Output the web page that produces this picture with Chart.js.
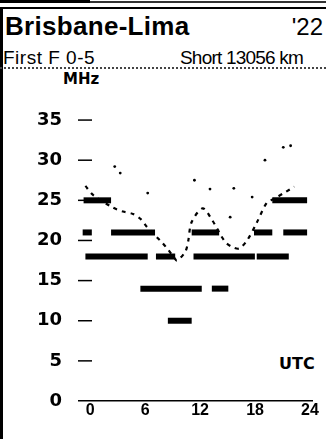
<!DOCTYPE html>
<html>
<head>
<meta charset="utf-8">
<script src="https://cdn.jsdelivr.net/npm/chart.js@4"></script>
<style>
  html, body { margin:0; padding:0; background:#fff; }
  body { width:326px; height:439px; position:relative; overflow:hidden; }
  #c { position:absolute; left:0; top:0; }
  .t { position:absolute; white-space:nowrap; line-height:1; color:#000; }
  .bar { position:absolute; background:#000; }
</style>
</head>
<body>
<div class="bar" style="left:0;top:0;width:90px;height:3px"></div>
<div class="bar" style="left:90px;top:1px;width:236px;height:2px;background:#333"></div>
<div class="bar" style="left:0;top:7px;width:326px;height:2px"></div>
<div class="bar" style="left:0;top:7px;width:3px;height:432px"></div>
<div class="bar" style="left:0;top:67px;width:326px;height:0;background:none;border-top:2px dotted #444"></div>

<div class="t" style="left:5px;top:11px;font:bold 26px 'Liberation Sans',Arial,sans-serif;letter-spacing:0.3px">Brisbane-Lima</div>
<div class="t" style="right:3px;top:13px;font:24px 'Liberation Sans',Arial,sans-serif">'22</div>
<div class="t" style="left:3px;top:47px;font:19px 'Liberation Sans',Arial,sans-serif;letter-spacing:0.5px">First F 0-5</div>
<div class="t" style="left:180px;top:47px;font:19px 'Liberation Sans',Arial,sans-serif;letter-spacing:-0.8px">Short 13056 km</div>
<div class="t" style="left:63px;top:70px;font:bold 15px 'DejaVu Sans',sans-serif">MHz</div>
<div class="t" style="left:279px;top:354px;font:bold 16px 'DejaVu Sans',sans-serif">UTC</div>

<canvas id="c" width="326" height="439"></canvas>
<script>
// Frequency bands shown as horizontal hour bars (MHz, start UTC hour, end UTC hour)
const segFreq  = [25,   25,   21,   21,   21,   21,   21,   18,   18,   18,   18,   14,   14,   10];
const segStart = [-0.5, 20.1, -0.6, 2.5,  11.3, 18.1, 21.3, -0.3, 7.4,  11.5, 18.4, 5.7,  13.5, 8.7];
const segEnd   = [2.5,  23.9, 0.4,  7.3,  14.3, 20.1, 23.9, 6.5,  9.5,  18.2, 21.9, 12.4, 15.3, 11.3];

// Dashed curve
const curveHours = [-0.3, 0.5, 2.7, 3.8, 4.9, 5.8, 6.4, 8.1, 8.7, 9.3, 9.7, 10.6, 10.9, 11.3, 12.5, 13.5, 14.9, 15.7, 16.5, 17.4, 18.4, 19.5, 20.3, 21.5, 22.5];
const curveMHz   = [26.8, 25.7, 24.1, 23.6, 23.3, 22.6, 21.7, 19.7, 18.9, 18.0, 17.5, 18.6, 19.8, 22.3, 24.0, 22.6, 19.9, 19.2, 19.0, 20.1, 22.2, 24.7, 25.2, 26.0, 26.7];

// Sparse dotted upper points
const dotHours = [2.9, 3.5, 6.5, 11.6, 13.3, 15.5, 15.9, 17.9, 19.3, 21.3, 22.1];
const dotMHz   = [29.2, 28.4, 25.9, 27.5, 26.4, 22.9, 26.5, 25.4, 30.0, 31.6, 31.8];

// Axis ticks
const xTicks = [0, 6, 12, 18, 24];
const yTicks = [0, 5, 10, 15, 20, 25, 30, 35];

const datasets = [];
for (let i = 0; i < segFreq.length; i++) {
  datasets.push({
    data: [{x: segStart[i], y: segFreq[i]}, {x: segEnd[i], y: segFreq[i]}],
    showLine: true, borderColor: '#000', borderWidth: 6, borderCapStyle: 'butt',
    pointRadius: 0, clip: false
  });
}
datasets.push({
  data: curveHours.map((h, i) => ({x: h, y: curveMHz[i]})),
  showLine: true, borderColor: '#000', borderWidth: 2.2, borderDash: [4, 5],
  tension: 0.3, pointRadius: 0, clip: false
});
datasets.push({
  data: dotHours.map((h, i) => ({x: h, y: dotMHz[i]})),
  showLine: false, pointRadius: 1.4, pointBackgroundColor: '#000', pointBorderWidth: 0, clip: false
});

const yTickMarks = {
  id: 'yTickMarks',
  beforeDatasetsDraw(chart) {
    const ys = chart.scales.y, ctx = chart.ctx;
    ctx.save();
    ctx.strokeStyle = '#000';
    ctx.lineWidth = 1.5;
    yTicks.forEach(v => {
      if (v === 0) return;
      const py = ys.getPixelForValue(v);
      ctx.beginPath();
      ctx.moveTo(78, py);
      ctx.lineTo(92, py);
      ctx.stroke();
    });
    ctx.restore();
  }
};

new Chart(document.getElementById('c'), {
  type: 'scatter',
  data: { datasets },
  plugins: [yTickMarks],
  options: {
    responsive: false,
    animation: false,
    devicePixelRatio: 1,
    layout: { padding: { top: 100, right: 13.4, left: 0, bottom: 0 } },
    plugins: { legend: { display: false }, tooltip: { enabled: false } },
    scales: {
      x: {
        type: 'linear', min: -1, max: 24.5,
        afterBuildTicks(s) { s.ticks = xTicks.map(v => ({value: v})); },
        afterFit(s) { s.height = 38; },
        grid: { display: true, drawOnChartArea: false, drawTicks: false },
        border: { display: true, color: '#000', width: 1.5, dash: [3, 2] },
        ticks: { color: '#000', padding: 0, labelOffset: 2, maxRotation: 0, autoSkip: false,
                 font: { family: "'Liberation Sans', Arial, sans-serif", weight: 'bold', size: 16 } }
      },
      y: {
        type: 'linear', min: 0, max: 37.5,
        afterBuildTicks(s) { s.ticks = yTicks.map(v => ({value: v})); },
        afterFit(s) { s.width = 79; },
        grid: { display: false },
        border: { display: false },
        ticks: { color: '#000', padding: 9, autoSkip: false,
                 font: { family: "'DejaVu Sans', sans-serif", weight: 'bold', size: 18 } }
      }
    }
  }
});
</script>
</body>
</html>
